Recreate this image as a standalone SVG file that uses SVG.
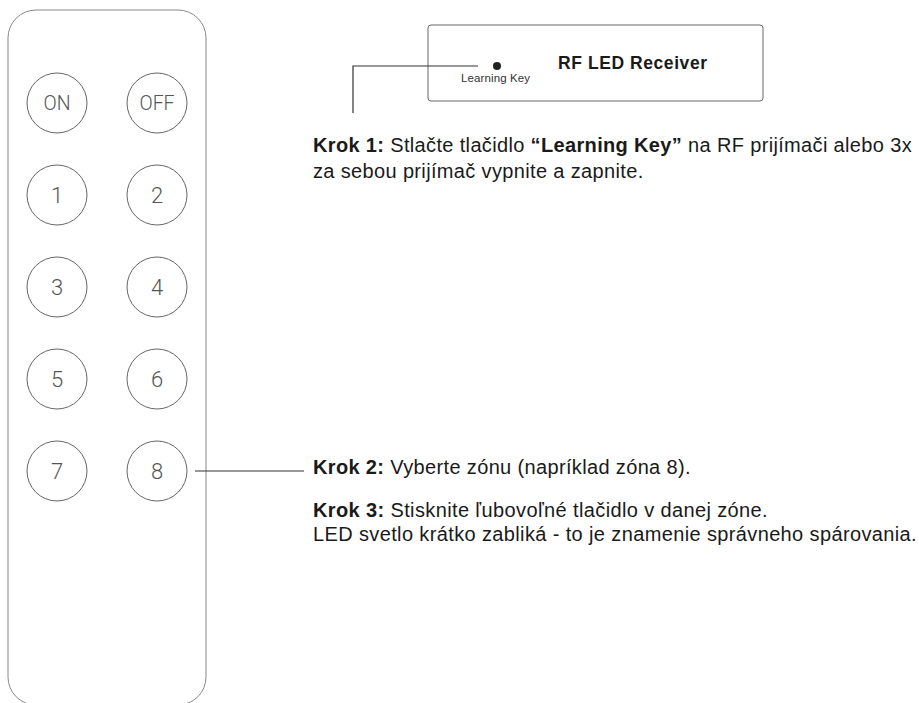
<svg xmlns="http://www.w3.org/2000/svg" width="919" height="703" viewBox="0 0 919 703">
<style>
.body{font-family:"Liberation Sans",Arial,sans-serif;font-size:20px;fill:#1a1a1a;letter-spacing:0.35px}
.b{font-weight:bold}
.key{fill:none;stroke:#666;stroke-width:1}
.num{font-family:Roboto,"Liberation Sans",Arial,sans-serif;font-size:22px;font-weight:300;fill:#555;text-anchor:middle}
.lbl{font-family:Roboto,"Liberation Sans",Arial,sans-serif;font-size:19.5px;font-weight:300;fill:#555;text-anchor:middle}
.lead{fill:none;stroke:#333;stroke-width:1.2}
</style>
<rect width="919" height="703" fill="#fff"/>
<g id="remote">
<rect x="8" y="10" width="198" height="695" rx="28" ry="28" fill="none" stroke="#888" stroke-width="1"/>
</g>
<g id="btn-on"><circle class="key" cx="57" cy="103" r="30"/><text class="lbl" x="57" y="110">ON</text></g>
<g id="btn-off"><circle class="key" cx="157" cy="103" r="30"/><text class="lbl" x="157" y="110">OFF</text></g>
<g id="btn-1"><circle class="key" cx="57" cy="195" r="30"/><text class="num" x="57" y="203">1</text></g>
<g id="btn-2"><circle class="key" cx="157" cy="195" r="30"/><text class="num" x="157" y="203">2</text></g>
<g id="btn-3"><circle class="key" cx="57" cy="287" r="30"/><text class="num" x="57" y="295">3</text></g>
<g id="btn-4"><circle class="key" cx="157" cy="287" r="30"/><text class="num" x="157" y="295">4</text></g>
<g id="btn-5"><circle class="key" cx="57" cy="379" r="30"/><text class="num" x="57" y="387">5</text></g>
<g id="btn-6"><circle class="key" cx="157" cy="379" r="30"/><text class="num" x="157" y="387">6</text></g>
<g id="btn-7"><circle class="key" cx="57" cy="471" r="30"/><text class="num" x="57" y="479">7</text></g>
<g id="btn-8"><circle class="key" cx="157" cy="471" r="30"/><text class="num" x="157" y="479">8</text></g>
<g id="receiver">
<rect x="428" y="25" width="335" height="76" rx="3" ry="3" fill="none" stroke="#666" stroke-width="1"/>
<circle cx="497" cy="66" r="4" fill="#222"/>
<text x="461" y="82" font-family="'Liberation Sans',Arial,sans-serif" font-size="11.5" fill="#333" textLength="69">Learning Key</text>
<text x="558" y="69.3" font-family="'Liberation Sans',Arial,sans-serif" font-size="17.5" font-weight="bold" fill="#1a1a1a" textLength="149">RF LED Receiver</text>
</g>
<g id="connectors">
<polyline class="lead" points="353,113 353,66 478,66"/>
<line class="lead" x1="195" y1="471" x2="304" y2="471"/>
</g>
<g id="step1">
<text class="body" x="313" y="152" textLength="599"><tspan class="b">Krok 1:</tspan> Stlačte tlačidlo <tspan class="b">“Learning Key”</tspan> na RF prijímači alebo 3x</text>
<text class="body" x="313" y="178">za sebou prijímač vypnite a zapnite.</text>
</g>
<g id="step2">
<text class="body" x="313" y="474"><tspan class="b">Krok 2:</tspan> Vyberte zónu (napríklad zóna 8).</text>
</g>
<g id="step3">
<text class="body" x="313" y="517" textLength="455"><tspan class="b">Krok 3:</tspan> Stisknite ľubovoľné tlačidlo v danej zóne.</text>
<text class="body" x="313" y="541" textLength="604">LED svetlo krátko zabliká - to je znamenie správneho spárovania.</text>
</g>
</svg>
